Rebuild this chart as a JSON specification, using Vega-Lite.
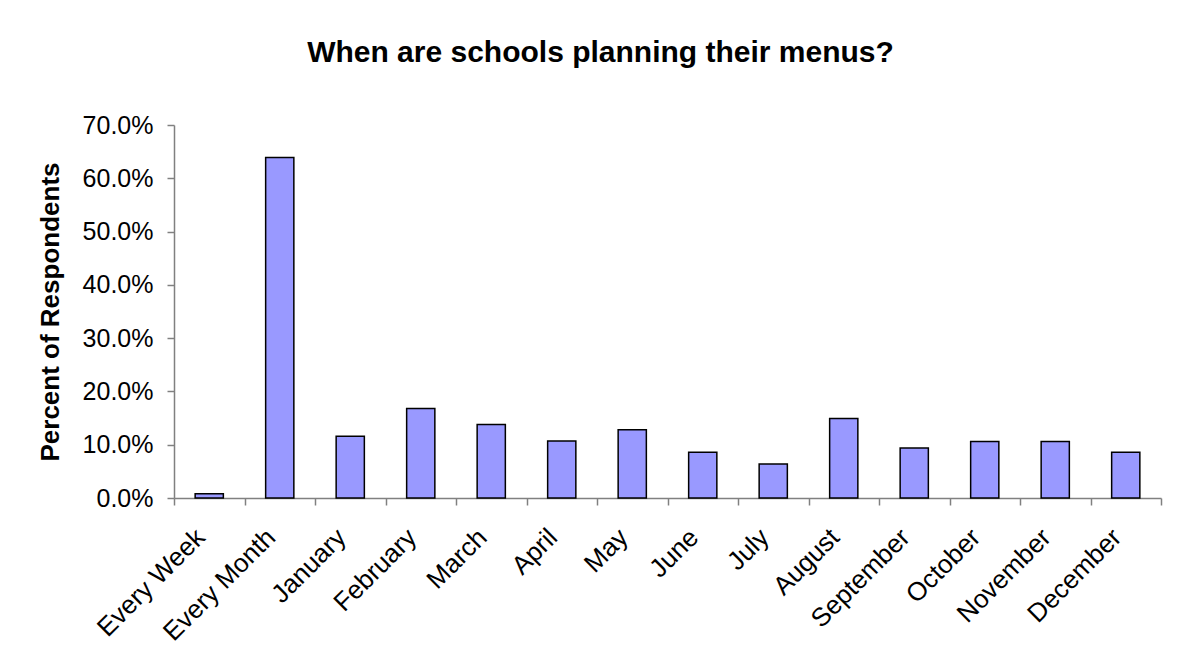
{
  "$schema": "https://vega.github.io/schema/vega-lite/v6.json",
  "autosize": "none",
  "width": 987,
  "height": 373,
  "padding": {"left": 174, "top": 125, "right": 29, "bottom": 162},
  "background": "white",
  "title": {
    "text": "When are schools planning their menus?",
    "font": "Liberation Sans",
    "fontSize": 30,
    "fontWeight": "bold",
    "color": "black",
    "anchor": "middle",
    "dx": -67,
    "offset": 45
  },
  "data": {
    "values": [
      {"category": "Every Week", "pct": 0.008},
      {"category": "Every Month", "pct": 0.639},
      {"category": "January", "pct": 0.116},
      {"category": "February", "pct": 0.168},
      {"category": "March", "pct": 0.138},
      {"category": "April", "pct": 0.107},
      {"category": "May", "pct": 0.128},
      {"category": "June", "pct": 0.086},
      {"category": "July", "pct": 0.064},
      {"category": "August", "pct": 0.149},
      {"category": "September", "pct": 0.094},
      {"category": "October", "pct": 0.106},
      {"category": "November", "pct": 0.106},
      {"category": "December", "pct": 0.086}
    ]
  },
  "mark": {
    "type": "bar",
    "fill": "#9999FF",
    "stroke": "black",
    "strokeWidth": 1.5,
    "width": {"band": 0.4}
  },
  "encoding": {
    "x": {
      "field": "category",
      "type": "nominal",
      "sort": null,
      "scale": {"paddingInner": 0, "paddingOuter": 0},
      "axis": {
        "title": null,
        "labelAngle": -45,
        "labelAlign": "right",
        "labelBaseline": "middle",
        "labelFont": "Liberation Sans",
        "labelFontSize": 26,
        "labelColor": "black",
        "labelPadding": 28,
        "labelOffset": -9,
        "tickBand": "extent",
        "tickSize": 7,
        "tickColor": "#808080",
        "domainColor": "#808080",
        "domainWidth": 1.5,
        "tickWidth": 1.5
      }
    },
    "y": {
      "field": "pct",
      "type": "quantitative",
      "scale": {"domain": [0, 0.7], "nice": false},
      "axis": {
        "title": "Percent of Respondents",
        "titleFont": "Liberation Sans",
        "titleFontSize": 26,
        "titleFontWeight": "bold",
        "titleColor": "black",
        "titleX": -124,
        "titleY": 186.5,
        "titleAngle": -90,
        "titleAlign": "center",
        "titleBaseline": "middle",
        "values": [0, 0.1, 0.2, 0.3, 0.4, 0.5, 0.6, 0.7],
        "format": ".1%",
        "labelFont": "Liberation Sans",
        "labelFontSize": 25,
        "labelColor": "black",
        "labelPadding": 14,
        "tickSize": 7,
        "tickColor": "#808080",
        "domainColor": "#808080",
        "domainWidth": 1.5,
        "tickWidth": 1.5,
        "grid": false
      }
    }
  },
  "config": {
    "view": {"stroke": null}
  }
}
